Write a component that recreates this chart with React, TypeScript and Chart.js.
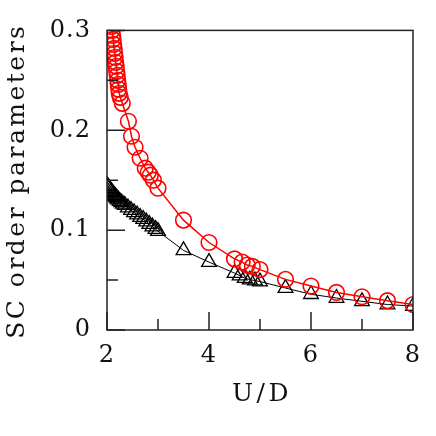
import React, { useEffect, useRef } from "react";
import { Chart, registerables } from "chart.js";
Chart.register(...registerables);

// Red circles series (U/D, SC order parameter)
const redU = [2.06, 2.07, 2.08, 2.09, 2.10, 2.11, 2.12, 2.13, 2.14, 2.15, 2.16, 2.17, 2.18, 2.19, 2.20, 2.21, 2.22, 2.23, 2.24, 2.26, 2.30, 2.42, 2.48, 2.55, 2.65, 2.75, 2.81, 2.85, 2.91, 3.00, 3.50, 4.00, 4.50, 4.65, 4.75, 4.85, 5.00, 5.50, 6.00, 6.50, 7.00, 7.50, 8.00];
const redSC = [0.318, 0.313, 0.309, 0.304, 0.300, 0.295, 0.291, 0.286, 0.282, 0.277, 0.273, 0.268, 0.264, 0.259, 0.255, 0.250, 0.246, 0.241, 0.237, 0.233, 0.227, 0.209, 0.194, 0.183, 0.172, 0.162, 0.158, 0.155, 0.150, 0.142, 0.110, 0.0876, 0.0712, 0.068, 0.065, 0.0637, 0.0605, 0.0507, 0.044, 0.0376, 0.0333, 0.0294, 0.0255];

// Black triangles series
const blackU = [2.00, 2.02, 2.04, 2.06, 2.08, 2.10, 2.12, 2.14, 2.16, 2.18, 2.20, 2.22, 2.25, 2.28, 2.31, 2.35, 2.41, 2.47, 2.53, 2.59, 2.65, 2.71, 2.77, 2.83, 2.89, 2.95, 3.00, 3.50, 4.00, 4.50, 4.60, 4.70, 4.80, 4.90, 5.00, 5.50, 6.00, 6.50, 7.00, 7.50, 8.00];
const blackSC = [0.145, 0.1435, 0.142, 0.1405, 0.139, 0.1378, 0.1365, 0.1352, 0.134, 0.1328, 0.1316, 0.1305, 0.129, 0.1277, 0.1263, 0.125, 0.1225, 0.120, 0.1178, 0.1155, 0.113, 0.111, 0.1085, 0.106, 0.1035, 0.101, 0.099, 0.0797, 0.068, 0.057, 0.0545, 0.052, 0.0505, 0.0495, 0.0485, 0.042, 0.0358, 0.032, 0.0287, 0.0255, 0.024];

const xTickValues = [2, 4, 6, 8];
const xMinorTicks = [3, 5, 7];
const yTickValues = [0, 0.1, 0.2, 0.3];
const yMinorTicks = [0.05, 0.15, 0.25];
const xTitle = "U/D";
const yTitle = "SC order parameters";

const FONT = "'DejaVu Serif', 'Liberation Serif', serif";

const framePlugin = {
  id: "frame",
  beforeDraw(chart: any) {
    chart.ctx.letterSpacing = "1px";
  },
  afterDatasetsDraw(chart: any) {
    const { ctx, chartArea: a, scales } = chart;
    const x = scales.x;
    const y = scales.y;
    ctx.save();
    ctx.strokeStyle = "#222";
    ctx.lineWidth = 1.5;
    ctx.strokeRect(a.left, a.top, a.right - a.left, a.bottom - a.top);
    ctx.beginPath();
    xTickValues.forEach((v) => {
      const p = x.getPixelForValue(v);
      ctx.moveTo(p, a.bottom);
      ctx.lineTo(p, a.bottom - 18);
    });
    xMinorTicks.forEach((v) => {
      const p = x.getPixelForValue(v);
      ctx.moveTo(p, a.bottom);
      ctx.lineTo(p, a.bottom - 11);
    });
    yTickValues.forEach((v) => {
      const p = y.getPixelForValue(v);
      ctx.moveTo(a.left, p);
      ctx.lineTo(a.left + 18, p);
    });
    yMinorTicks.forEach((v) => {
      const p = y.getPixelForValue(v);
      ctx.moveTo(a.left, p);
      ctx.lineTo(a.left + 11, p);
    });
    ctx.stroke();
    ctx.restore();
  },
  afterDraw(chart: any) {
    const { ctx, chartArea: a } = chart;
    ctx.save();
    ctx.fillStyle = "#111";
    ctx.textAlign = "center";
    ctx.textBaseline = "alphabetic";
    ctx.font = `25px ${FONT}`;
    // x title
    ctx.letterSpacing = "3.5px";
    ctx.fillText(xTitle, (a.left + a.right) / 2 + 2, 401);
    // y title
    ctx.letterSpacing = "2.5px";
    ctx.translate(24, (a.top + a.bottom) / 2 + 2);
    ctx.rotate(-Math.PI / 2);
    ctx.fillText(yTitle, 1, 0);
    ctx.restore();
  },
};

export default function App() {
  const ref = useRef<HTMLCanvasElement | null>(null);
  useEffect(() => {
    if (!ref.current) return;
    const chart = new Chart(ref.current, {
      type: "scatter",
      data: {
        datasets: [
          {
            label: "circles",
            data: redU.map((u, i) => ({ x: u, y: redSC[i] })),
            showLine: true,
            borderColor: "#ff0000",
            borderWidth: 1.5,
            pointStyle: "circle",
            pointRadius: 7.8,
            pointBorderWidth: 1.6,
            pointBorderColor: "#ff0000",
            pointBackgroundColor: "rgba(0,0,0,0)",
            clip: 0,
          } as any,
          {
            label: "triangles",
            data: blackU.map((u, i) => ({ x: u, y: blackSC[i] })),
            showLine: true,
            borderColor: "#000000",
            borderWidth: 1,
            pointStyle: "triangle",
            pointRadius: 8.5,
            pointBorderWidth: 1.3,
            pointBorderColor: "#000000",
            pointBackgroundColor: "rgba(0,0,0,0)",
            clip: 0,
          } as any,
        ],
      },
      options: {
        responsive: false,
        animation: false,
        devicePixelRatio: 1,
        layout: { padding: { top: 24, right: 23, left: 0, bottom: 0 } },
        plugins: { legend: { display: false }, tooltip: { enabled: false } },
        scales: {
          x: {
            type: "linear",
            min: 2,
            max: 8,
            afterBuildTicks: (s: any) => {
              s.ticks = xTickValues.map((v) => ({ value: v }));
            },
            afterFit: (s: any) => {
              s.height = 106;
            },
            grid: { display: false, drawTicks: false },
            border: { display: false },
            ticks: {
              font: { family: FONT, size: 24 },
              color: "#111",
              padding: 11,
              maxRotation: 0,
              callback: (v: any) => String(v),
            },
            title: { display: false },
          },
          y: {
            type: "linear",
            min: 0,
            max: 0.3,
            afterBuildTicks: (s: any) => {
              s.ticks = yTickValues.map((v) => ({ value: v }));
            },
            afterFit: (s: any) => {
              s.width = 107;
            },
            grid: { display: false, drawTicks: false },
            border: { display: false },
            ticks: {
              font: { family: FONT, size: 24 },
              color: "#111",
              padding: 16,
              callback: (v: any) => String(v),
            },
            title: { display: false },
          },
        },
      },
      plugins: [framePlugin],
    });
    return () => chart.destroy();
  }, []);
  return (
    <div style={{ position: "absolute", left: 0, top: 0, width: 436, height: 436, background: "#fff" }}>
      <canvas ref={ref} width={436} height={436} style={{ width: 436, height: 436 }} />
    </div>
  );
}
